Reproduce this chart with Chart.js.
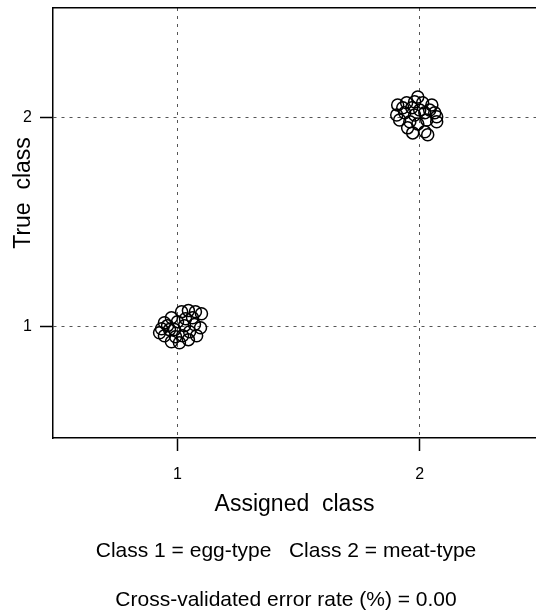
<!DOCTYPE html>
<html><head><meta charset="utf-8">
<script src="https://cdn.jsdelivr.net/npm/chart.js@4"></script>
<style>html,body{margin:0;padding:0;background:#fff;overflow:hidden;} #wrap{width:536px;height:613px;} canvas{display:block;}</style>
</head><body>
<div id="wrap"><canvas id="c" width="536" height="613"></canvas></div>
<script>
// ---- data ----
const tickValues = [1, 2];
const class1Assigned = [1.017,1.045,1.074,1.099,0.975,0.946,0.934,0.946,0.975,1.008,1.045,1.079,1.095,1.000,1.029,0.988,1.050,0.967,1.021,1.070,0.992,0.959,1.033,0.926,1.062];
const class1True     = [1.072,1.077,1.072,1.062,1.043,1.019,0.990,0.957,0.928,0.923,0.938,0.957,0.995,1.024,1.005,0.986,0.976,0.986,0.957,1.010,0.952,1.005,1.038,0.971,1.043];
const class2Assigned = [1.992,1.909,1.946,1.979,2.012,2.050,1.905,1.938,1.979,2.021,2.062,2.070,1.917,1.959,2.029,2.070,1.950,1.971,2.021,2.033,2.000,1.967,2.041,1.992,1.930];
const class2True     = [2.100,2.062,2.072,2.077,2.072,2.062,2.014,2.024,2.014,2.024,2.024,2.005,1.990,1.981,1.990,1.981,1.952,1.928,1.933,1.919,2.038,2.048,2.038,1.971,2.048];
const xTitle = 'Assigned  class';
const yTitle = 'True  class';
const captionLine = 'Class 1 = egg-type   Class 2 = meat-type';
const errorLine = 'Cross-validated error rate (%) = 0.00';

const toPts = (xs, ys) => xs.map((x, i) => ({x: x, y: ys[i]}));
const FONT = '"Liberation Sans", Arial, Helvetica, sans-serif';

const yTitlePlugin = {
  id: 'yTitle',
  afterDraw(chart) {
    const ctx = chart.ctx;
    ctx.save();
    ctx.translate(24, 193);
    ctx.rotate(-Math.PI / 2);
    ctx.font = '23px ' + FONT;
    ctx.fillStyle = '#000';
    ctx.textAlign = 'center';
    ctx.textBaseline = 'middle';
    ctx.fillText(yTitle, 0, 0);
    ctx.restore();
  }
};

// shift the caption boxes slightly left so they centre where the reference puts them
const captionShift = {
  id: 'captionShift',
  afterLayout(chart) {
    chart.boxes.forEach(b => {
      if (b.options && (b.options.text === captionLine || b.options.text === errorLine)) {
        b.left -= 17;
      }
    });
  }
};

const zeroPad = s => { s.paddingTop = 0; s.paddingBottom = 0; s.paddingLeft = 0; s.paddingRight = 0; };

const gridCommon = {
  color: '#555',
  lineWidth: 1,
  drawOnChartArea: true,
  drawTicks: true,
  tickLength: 13,
  tickColor: '#000',
  tickWidth: 1.5,
  tickBorderDash: []
};
const borderCommon = {display: true, color: '#000', width: 1.5, dash: [3, 5]};

new Chart(document.getElementById('c'), {
  type: 'scatter',
  data: {
    datasets: [
      {label: 'egg-type', data: toPts(class1Assigned, class1True)},
      {label: 'meat-type', data: toPts(class2Assigned, class2True)}
    ]
  },
  options: {
    responsive: false,
    animation: false,
    devicePixelRatio: 1,
    layout: {autoPadding: false, padding: {top: 8, left: 0, right: 0, bottom: 0}},
    elements: {
      point: {radius: 6, pointStyle: 'circle', borderColor: '#000', borderWidth: 1.5, backgroundColor: 'rgba(0,0,0,0)'}
    },
    plugins: {
      legend: {display: false},
      tooltip: {enabled: false},
      title: {display: true, position: 'bottom', fullSize: false, text: errorLine, color: '#000',
              font: {family: FONT, size: 21, weight: 'normal', lineHeight: 1.2}, padding: {top: 0, bottom: 0}},
      subtitle: {display: true, position: 'bottom', fullSize: false, text: captionLine, color: '#000',
              font: {family: FONT, size: 21, weight: 'normal', lineHeight: 1.2}, padding: {top: 0, bottom: 23.7}}
    },
    scales: {
      x: {
        type: 'linear', position: 'bottom', min: 0.486, max: 2.48,
        afterBuildTicks: s => { s.ticks = tickValues.map(v => ({value: v})); },
        afterFit: s => { s.height = 100.9; zeroPad(s); },
        grid: gridCommon,
        border: borderCommon,
        ticks: {color: '#000', font: {family: FONT, size: 16}, padding: 14, maxRotation: 0, minRotation: 0},
        title: {display: true, text: xTitle, color: '#000', font: {family: FONT, size: 23, lineHeight: 1.2}, padding: {top: 0, bottom: 20.6}}
      },
      x2: {
        type: 'linear', position: 'top', min: 0.486, max: 2.48,
        afterFit: s => { s.height = 0; zeroPad(s); },
        grid: {display: true, drawOnChartArea: false, drawTicks: false},
        border: {display: true, color: '#000', width: 1.5},
        ticks: {display: false}
      },
      y: {
        type: 'linear', position: 'left', min: 0.467, max: 2.526,
        afterBuildTicks: s => { s.ticks = tickValues.map(v => ({value: v})); },
        afterFit: s => { s.width = 53; zeroPad(s); },
        grid: gridCommon,
        border: borderCommon,
        ticks: {color: '#000', font: {family: FONT, size: 16}, padding: 8}
      }
    }
  },
  plugins: [yTitlePlugin, captionShift]
});
</script>
</body></html>
